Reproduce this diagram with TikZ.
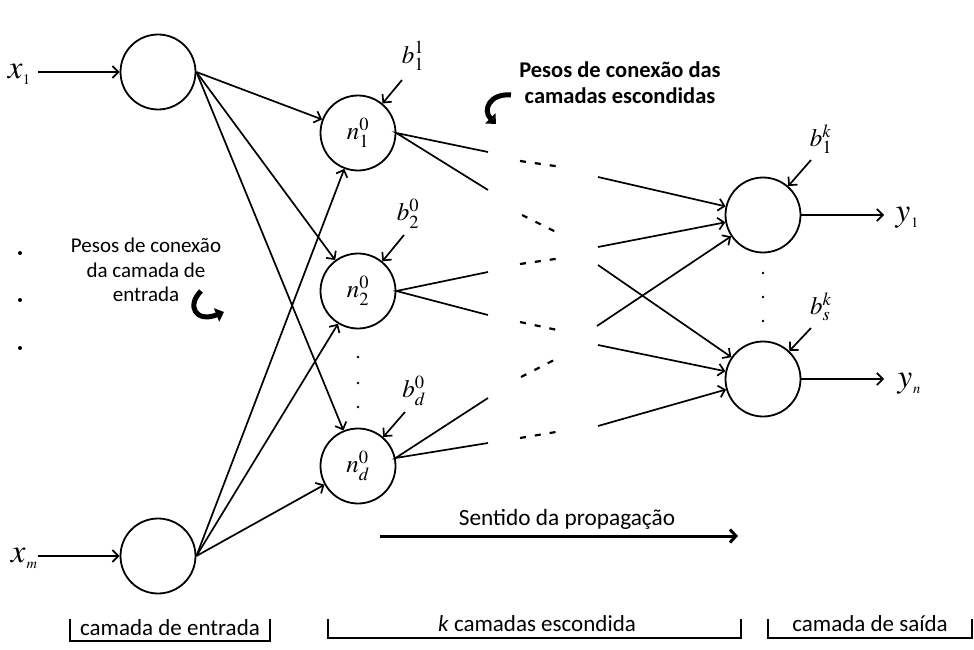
\documentclass[tikz,border=0pt]{standalone}
\usepackage{mathptmx}
\usepackage{fontspec}
\newfontfamily\calibri{Carlito}
\usetikzlibrary{arrows.meta, positioning, calc}

\newcommand\lowsub[2]{\kern#2\lower6pt\hbox{\fontsize{14.5}{14.5}\selectfont$#1$}}

\tikzset{
  neuron/.style={circle, draw, line width=1.8pt, minimum size=75pt, inner sep=0pt},
  conn/.style={-{Straight Barb[length=6pt,width=12pt]}, line width=1.7pt},
  wire/.style={line width=1.7pt},
  bigvar/.style={font=\fontsize{33}{33}\selectfont, inner sep=0pt},
  smallvar/.style={font=\fontsize{25}{25}\selectfont, inner sep=0pt},
  blurb/.style={font=\calibri\fontsize{21}{24.5}\selectfont, align=center, inner sep=0pt},
  layerlbl/.style={font=\calibri\fontsize{23}{24}\selectfont, inner sep=0pt},
  gap/.style={dash pattern=on 6pt off 9pt, line width=2.2pt},
  curly/.style={-{Triangle[length=8pt,width=14pt]}, line width=5pt},
}

\begin{document}
\begin{tikzpicture}[x=1pt, y=-1pt]
  \useasboundingbox (0,0) rectangle (974,650);

  % camada de entrada
  \node[neuron] (in1) at (158,72) {};
  \node[neuron] (inm) at (158,556) {};
  \node[bigvar] (x1) at (19,74) {$x$\lowsub{1}{0pt}};
  \node[bigvar] (xm) at (24,558) {$x$\lowsub{m}{1pt}};
  \draw[conn] (38,72) -- (in1.west);
  \draw[conn] (38,556) -- (inm.west);
  \foreach \yy in {253,300,348} \fill (20,\yy) circle (2pt);

  % camada escondida 0
  \node[neuron, smallvar] (n1) at (358,133) {$n_1^0$};
  \node[neuron, smallvar] (n2) at (358,291) {$n_2^0$};
  \node[neuron, smallvar] (nd) at (358,466) {$n_d^0$};
  \foreach \yy in {357,383,407} \fill (358,\yy) circle (1.4pt);

  \foreach \a in {in1,inm}
    \foreach \b in {n1,n2,nd}
      \draw[conn] (\a.east) -- (\b);

  % bias
  \node[smallvar] (b11) at (413,56) {$b_1^1$};
  \node[smallvar] (b20) at (408,214) {$b_2^0$};
  \node[smallvar] (bd0) at (414,391) {$b_d^0$};
  \node[smallvar] (b1k) at (821,139) {$b_1^k$};
  \node[smallvar] (bsk) at (821,307) {$b_s^k$};
  \coordinate (t11) at (402,80);
  \coordinate (t20) at (404,235);
  \coordinate (td0) at (405,412);
  \coordinate (t1k) at (811,160);
  \coordinate (tsk) at (811,328);
  \draw[conn] (t11) -- (n1);
  \draw[conn] (t20) -- (n2);
  \draw[conn] (td0) -- (nd);

  % saidas das escondidas
  \coordinate (h1a) at (488,152);
  \coordinate (h1b) at (488,190);
  \coordinate (h2a) at (488,272);
  \coordinate (h2b) at (488,315);
  \coordinate (hda) at (488,398);
  \coordinate (hdb) at (488,443);
  \draw[wire] (h1a) -- (n1.east) -- (h1b);
  \draw[wire] (h2a) -- (n2.east) -- (h2b);
  \draw[wire] (hda) -- (nd.12) -- (hdb);

  % camadas intermediarias
  \draw[gap] (520,161) -- (562,167);
  \draw[gap] (522,215) -- (560,234);
  \draw[gap] (520,264) -- (562,258);
  \draw[gap] (520,322) -- (562,331);
  \draw[gap] (521,377) -- (558,358);
  \draw[gap] (520,438) -- (562,431);

  % camada de saida
  \node[neuron] (out1) at (763,215) {};
  \node[neuron] (outs) at (763,379) {};
  \foreach \yy in {273,297,321} \fill (763,\yy) circle (1.4pt);
  \draw[conn] (t1k) -- (out1);
  \draw[conn] (tsk) -- (outs);

  \coordinate (k1) at (598,177);
  \coordinate (k2) at (598,247);
  \coordinate (k3) at (597,326);
  \coordinate (k4) at (598,265);
  \coordinate (k5) at (598,345);
  \coordinate (k6) at (598,426);
  \foreach \c in {k1,k2,k3} \draw[conn] (\c) -- (out1);
  \foreach \c in {k4,k5,k6} \draw[conn] (\c) -- (outs);

  \node[bigvar] (y1) at (907,218) {$y$\lowsub{1}{1pt}};
  \node[bigvar] (yn) at (909,384) {$y$\lowsub{n}{1pt}};
  \draw[conn] (out1.east) -- (884,215);
  \draw[conn] (outs.east) -- (884,379);

  % textos
  \node[blurb] (pesosin) at (146,270) {Pesos de conexão\\da camada de\\entrada};
  \node[blurb, font=\calibri\bfseries\fontsize{22.5}{26}\selectfont] (pesosesc) at (620,83)
    {Pesos de conexão das\\camadas escondidas};
  \draw[curly] (201,291) .. controls (186,306) and (196,323) .. (224,312);
  \draw[curly] (511,95) .. controls (490,93) and (482,110) .. (496,124);

  \node[blurb, font=\calibri\fontsize{23.3}{24}\selectfont] (sentido) at (567,519) {Sentido da propagação};
  \coordinate (propA) at (380,536);
  \coordinate (propB) at (738,536);
  \draw[-{Straight Barb[length=6pt,width=13pt]}, line width=3pt] (propA) -- (propB);

  % chaves das camadas
  \node[layerlbl] (lin) at (170,628) {camada de entrada};
  \node[layerlbl] (lhid) at (537,624) {\textit{k} camadas escondida};
  \node[layerlbl] (lout) at (870,624) {camada de saída};
  \draw[wire] (70,619) -- (70,641) -- (270,641) -- (270,619);
  \draw[wire] (328,619) -- (328,638) -- (741,638) -- (741,619);
  \draw[wire] (768,619) -- (768,638) -- (972,638) -- (972,619);
\end{tikzpicture}
\end{document}
